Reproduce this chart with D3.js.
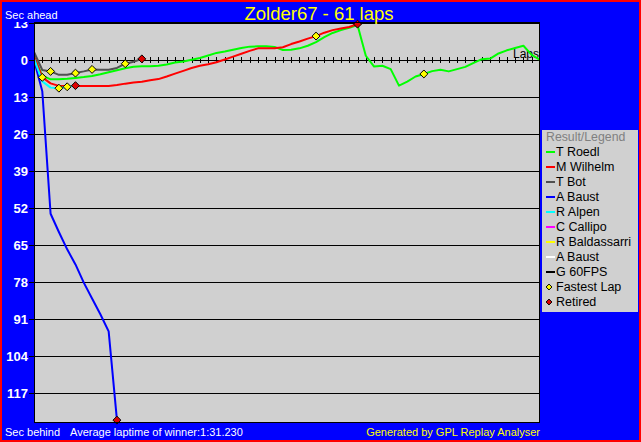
<!DOCTYPE html>
<html>
<head>
<meta charset="utf-8">
<script src="https://cdn.jsdelivr.net/npm/d3@7"></script>
<style>
  html, body { margin: 0; padding: 0; background: #0000ff; }
  svg { display: block; }
  text { font-family: "Liberation Sans", Arial, sans-serif; }
</style>
</head>
<body>
<script>
// ---------------- DATA ----------------
const title = "Zolder67 - 61 laps";
const totalLaps = 61;
const yTickValues = [13, 0, -13, -26, -39, -52, -65, -78, -91, -104, -117];
const yTickLabels = ["13", "0", "13", "26", "39", "52", "65", "78", "91", "104", "117"];

// seconds ahead (+) / behind (-) per lap, starting at lap 0
const roedl = [1.0, -5.5, -6.8, -6.8, -6.6, -6.3, -6.0, -5.6, -5.0, -4.3, -3.6, -2.9, -2.4, -2.2, -2.2, -2.0,
  -1.6, -0.9, -0.5, 0.1, 0.7, 1.6, 2.5, 3.0, 3.6, 4.2, 4.7, 4.8, 4.8, 4.6, 3.5, 3.6, 4.1, 5.0, 6.3, 8.0,
  9.5, 10.5, 11.3, 12.3, 1.5, -2.3, -2.0, -3.2, -9.0, -7.6, -5.8, -4.9, -3.9, -3.4, -4.0, -3.2, -2.4, -1.0,
  0.3, 0.5, 2.3, 3.4, 4.2, 5.0, 1.8, 0.0];
const wilhelm = [1.4, -6.1, -8.2, -9.1, -9.1, -9.1, -9.1, -9.1, -9.1, -9.1, -8.8, -8.3, -7.9, -7.6, -7.1, -6.7,
  -5.8, -4.8, -3.8, -2.8, -2.0, -1.5, -0.8, 0.2, 1.2, 2.2, 3.2, 4.1, 4.1, 4.1, 4.5, 5.6, 6.5, 7.5, 8.4, 9.6,
  10.5, 11.1, 11.6, 12.6];
const bot = [2.8, -3.5, -4.0, -5.2, -5.2, -4.6, -4.0, -3.3, -3.4, -3.4, -2.8, -1.3, -0.6, 0.4];
const baust = [0, -11, -54, -60.4, -66.5, -71.8, -78.2, -83.8, -89.3, -95.3, -126.5];
const alpen = [0.5, -7.5, -9.7, -9.9, -9.4, -9.0];

const legendNames = ["T Roedl", "M Wilhelm", "T Bot", "A Baust", "R Alpen", "C Callipo", "R Baldassarri", "A Baust", "G 60FPS"];
const legendColors = ["#00ff00", "#ff0000", "#505050", "#0000ff", "#00ffff", "#ff00ff", "#ffff00", "#ffffff", "#000000"];

// fastest lap markers: [series index, lap]
const fastestLaps = [[1, 1], [1, 34], [2, 2], [2, 5], [2, 7], [2, 11], [4, 3], [4, 4], [0, 47]];
// retired markers: [series index, lap]
const retired = [[2, 13], [4, 5], [3, 10], [1, 39]];

const seriesData = [roedl, wilhelm, bot, baust, alpen];
const drawOrder = [0, 1, 2, 3, 4];

// ---------------- LAYOUT ----------------
const W = 641, H = 442;
const plot = { left: 34, top: 22, right: 540, bottom: 423 };

const svg = d3.select("body").append("svg").attr("width", W).attr("height", H);

// background + red frame
svg.append("rect").attr("x", 0).attr("y", 0).attr("width", W).attr("height", H).attr("fill", "#ff0000");
svg.append("rect").attr("x", 2).attr("y", 2).attr("width", W - 4).attr("height", H - 4).attr("fill", "#0000ff");

const x = d3.scaleLinear().domain([0, totalLaps]).range([plot.left, plot.right]);
const y = d3.scaleLinear().domain([-127.5, 13.35]).range([plot.bottom, plot.top]);

// plot background
svg.append("rect").attr("x", plot.left).attr("y", plot.top)
  .attr("width", plot.right - plot.left).attr("height", plot.bottom - plot.top)
  .attr("fill", "#d0d0d0");

// clip paths
const defs = svg.append("defs");
defs.append("clipPath").attr("id", "plotClip").append("rect")
  .attr("x", plot.left).attr("y", plot.top)
  .attr("width", plot.right - plot.left).attr("height", plot.bottom - plot.top);
defs.append("clipPath").attr("id", "labelClip").append("rect")
  .attr("x", 0).attr("y", plot.top).attr("width", plot.left).attr("height", H - plot.top);

// horizontal gridlines via axis (with 5px outer tick on the left)
const yAxis = d3.axisLeft(y).tickValues(yTickValues)
  .tickSize(-(plot.right - plot.left)).tickFormat("");
const gy = svg.append("g").attr("transform", `translate(${plot.left},0)`).call(yAxis);
gy.select(".domain").remove();
gy.selectAll(".tick line").attr("x1", -5).attr("stroke", "#000").attr("stroke-width", 1)
  .attr("shape-rendering", "crispEdges");

// y labels
svg.append("g").attr("clip-path", "url(#labelClip)")
  .selectAll("text").data(yTickValues).join("text")
  .attr("x", 28).attr("y", d => y(d)).attr("dy", "0.36em")
  .attr("text-anchor", "end").attr("fill", "#fff")
  .attr("font-size", 13).attr("font-weight", "bold")
  .text((d, i) => yTickLabels[i]);

// zero axis lap ticks
const xAxis = d3.axisBottom(x).tickValues(d3.range(1, totalLaps)).tickSize(3).tickFormat("");
const gx = svg.append("g").attr("transform", `translate(0,${y(0)})`).call(xAxis);
gx.select(".domain").remove();
gx.selectAll(".tick line").attr("y1", -3).attr("y2", 3).attr("stroke", "#000")
  .attr("shape-rendering", "crispEdges");
svg.append("text").attr("x", 539).attr("y", 58).attr("text-anchor", "end")
  .attr("font-size", 12).attr("fill", "#000").text("Laps");

// series lines
const line = d3.line().x((d, i) => x(i)).y(d => y(d));
const gLines = svg.append("g").attr("clip-path", "url(#plotClip)");
drawOrder.forEach(si => {
  gLines.append("path").datum(seriesData[si])
    .attr("d", line).attr("fill", "none")
    .attr("stroke", legendColors[si]).attr("stroke-width", 2)
    .attr("stroke-linejoin", "round");
});

// markers
const diamond = d3.symbol().type(d3.symbolDiamond2).size(40);
svg.append("g").selectAll("path").data(fastestLaps).join("path")
  .attr("d", diamond)
  .attr("transform", d => `translate(${x(d[1])},${y(seriesData[d[0]][d[1]])})`)
  .attr("fill", "#ffff00").attr("stroke", "#000").attr("stroke-width", 1);
svg.append("g").selectAll("path").data(retired).join("path")
  .attr("d", diamond)
  .attr("transform", d => `translate(${x(d[1])},${y(seriesData[d[0]][d[1]])})`)
  .attr("fill", "#e00000").attr("stroke", "#000").attr("stroke-width", 1);

// plot border
svg.append("rect").attr("x", plot.left + 0.5).attr("y", plot.top + 0.5)
  .attr("width", plot.right - plot.left - 1).attr("height", plot.bottom - plot.top - 1)
  .attr("fill", "none").attr("stroke", "#000");

// title & captions
svg.append("text").attr("x", 319).attr("y", 20).attr("text-anchor", "middle")
  .attr("fill", "#ffff00").attr("font-size", 18.5).text(title);
svg.append("text").attr("x", 5).attr("y", 19).attr("fill", "#fff").attr("font-size", 11).text("Sec ahead");
svg.append("text").attr("x", 5).attr("y", 436).attr("fill", "#fff").attr("font-size", 11).text("Sec behind");
svg.append("text").attr("x", 70).attr("y", 436).attr("fill", "#fff").attr("font-size", 11)
  .text("Average laptime of winner:1:31.230");
svg.append("text").attr("x", 540).attr("y", 436).attr("text-anchor", "end")
  .attr("fill", "#ffff00").attr("font-size", 11).text("Generated by GPL Replay Analyser");

// legend
const lg = svg.append("g");
lg.append("rect").attr("x", 542).attr("y", 130).attr("width", 96).attr("height", 182).attr("fill", "#d0d0d0");
lg.append("text").attr("x", 546).attr("y", 137).attr("dy", "0.35em")
  .attr("font-size", 12.3).attr("fill", "#808080").text("Result/Legend");
const items = lg.selectAll("g.item").data(legendNames).join("g")
  .attr("transform", (d, i) => `translate(0,${152 + i * 15})`);
items.append("line").attr("x1", 546).attr("x2", 555).attr("y1", 0).attr("y2", 0)
  .attr("stroke", (d, i) => legendColors[i]).attr("stroke-width", 2);
items.append("text").attr("x", 556).attr("y", 0).attr("dy", "0.35em")
  .attr("font-size", 12.5).attr("fill", "#000").text(d => d);
const markerLegend = [["Fastest Lap", "#ffff00"], ["Retired", "#e00000"]];
const mi = lg.selectAll("g.mitem").data(markerLegend).join("g")
  .attr("transform", (d, i) => `translate(0,${152 + (legendNames.length + i) * 15})`);
mi.append("path").attr("d", d3.symbol().type(d3.symbolDiamond2).size(22))
  .attr("transform", "translate(549,0)")
  .attr("fill", d => d[1]).attr("stroke", "#000").attr("stroke-width", 1);
mi.append("text").attr("x", 556).attr("y", 0).attr("dy", "0.35em")
  .attr("font-size", 12.5).attr("fill", "#000").text(d => d[0]);
</script>
</body>
</html>
